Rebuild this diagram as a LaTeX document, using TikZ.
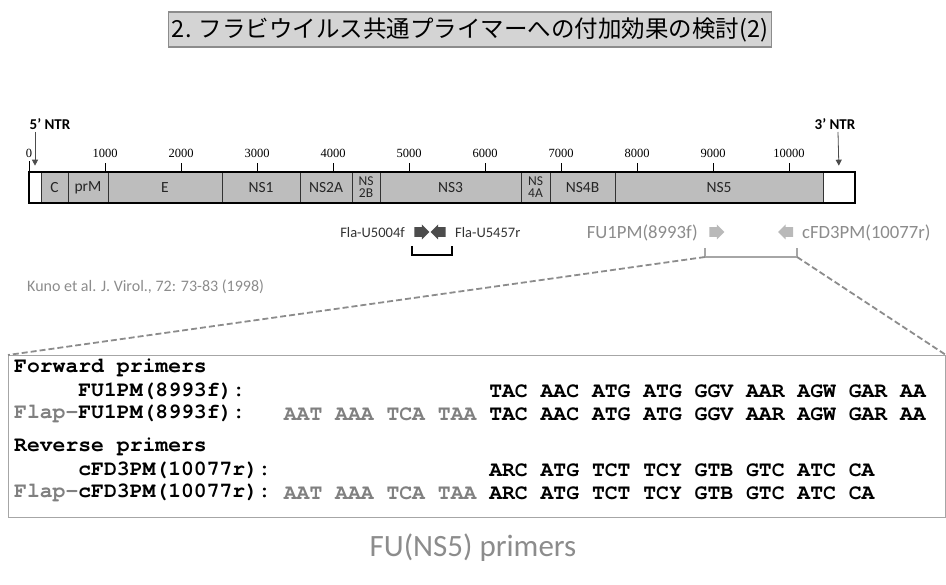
\documentclass[tikz,border=0pt]{standalone}
\usepackage{fontspec}
\setmainfont{Carlito}
\setmonofont{TeX Gyre Cursor}
\newfontfamily\jpfont{Noto Sans CJK JP}
\newfontfamily\serffont{Liberation Serif}
\usetikzlibrary{shapes.arrows,arrows.meta}
\definecolor{barfill}{gray}{0.74}
\definecolor{txtgray}{gray}{0.55}
\definecolor{titlefill}{gray}{0.83}
\definecolor{titleedge}{gray}{0.55}
\begin{document}
\begin{tikzpicture}[x=1pt,y=-1pt,
  titlebox/.style={draw=titleedge, fill=titlefill, line width=1.2pt, minimum width=603pt, minimum height=35pt, inner sep=0pt, font=\jpfont\fontsize{23.5}{24}\selectfont},
  seg/.style={draw=gray!40!black, line width=0.6pt, fill=barfill, minimum height=31pt, inner sep=0pt, align=center, font=\fontsize{15.5}{15.5}\selectfont, text=black!85},
  seg2/.style={seg, font=\fontsize{13.5}{12}\selectfont},
  ntrseg/.style={seg, fill=white},
  ticklab/.style={font=\serffont\fontsize{12.5}{13}\selectfont, inner sep=0pt},
  tickmark/.style={line width=1pt},
  ntrlab/.style={font=\bfseries\fontsize{15}{15}\selectfont, inner sep=0pt},
  ntrarrow/.style={gray!60!black, line width=0.8pt, shorten >=6pt, -{Triangle[length=6pt,width=6pt]}},
  smallprim/.style={font=\fontsize{14.5}{15}\selectfont, text=black!80, inner sep=0pt},
  bigprim/.style={font=\fontsize{18.7}{19}\selectfont, text=txtgray, inner sep=0pt},
  parrow/.style={single arrow, minimum height=15pt, minimum width=15pt, single arrow head extend=2pt, inner sep=3.5pt},
  bracketline/.style={line width=1.1pt},
  zoomline/.style={txtgray, line width=1.8pt, dash pattern=on 6pt off 3pt},
  seqbox/.style={draw=gray!70, line width=0.9pt},
  mono/.style={font=\ttfamily\bfseries\fontsize{21.4}{22}\selectfont, inner sep=0pt, anchor=west},
]
\useasboundingbox (0,0) rectangle (946,585);

% title
\node[titlebox] (title) at (470,29.5) {2. フラビウイルス共通プライマーへの付加効果の検討(2)};

% genome bar
\node[ntrseg, minimum width=12pt] (ntrfive) at (35,187.5) {};
\node[ntrseg, minimum width=32pt] (ntrthree) at (839,187.5) {};
\foreach \a/\b/\nm/\lab in {41/68/C/C, 68/108/prM/prM, 108/222/E/E, 222/300/NSone/NS1, 300/352/NStwoA/NS2A, 380/521/NSthree/NS3, 550/615/NSfourB/NS4B, 615/823/NSfive/NS5}
  \node[seg, minimum width={\b-\a}] (\nm) at ({(\a+\b)/2},187.5) {\lab};
\node[seg2, minimum width=28pt] (NStwoB) at (366,187.5) {NS\\2B};
\node[seg2, minimum width=29pt] (NSfourA) at (535.5,187.5) {NS\\4A};
\draw[line width=2pt] (ntrfive.north west) rectangle (ntrthree.south east);

% ticks
\coordinate (tk0) at (29,172);
\draw[tickmark] (tk0) -- ++(0,-11);
\node[ticklab] (tl0) at (29,153) {0};
\foreach \k in {1,...,10} {
  \coordinate (tk\k) at ({29+76*\k},172);
  \draw[tickmark] (tk\k) -- ++(0,-9);
  \node[ticklab] (tl\k) at ({29+76*\k},153) {\k000};
}

% NTR labels
\node[ntrlab] (fiveNTR) at (50,124) {5' NTR};
\coordinate (a5) at (35,132);
\draw[ntrarrow] (a5) -- (ntrfive.north);
\node[ntrlab] (threeNTR) at (835,124) {3' NTR};
\coordinate (a3) at (838,132);
\draw[ntrarrow] (a3) -- (ntrthree.north);

% Fla primers
\node[smallprim, anchor=east] (U5004) at (405,233) {Fla-U5004f};
\node[parrow, fill=black!70] (U5004a) at (419.5,232) {};
\node[parrow, fill=black!70, shape border rotate=180] (U5457a) at (440.5,232) {};
\node[smallprim, anchor=west] (U5457) at (455,233) {Fla-U5457r};
\coordinate (ub1) at (412,246);
\coordinate (ub2) at (452,246);
\draw[bracketline] (ub1) -- ++(0,9) -| (ub2);

% FU primers
\node[bigprim, anchor=east] (FU1PM) at (698,233) {FU1PM(8993f)};
\node[parrow, fill=gray!55] (FUa) at (714.5,232) {};
\node[parrow, fill=gray!55, shape border rotate=180] (cFDa) at (788,232) {};
\node[bigprim, anchor=west] (cFD) at (802,233) {cFD3PM(10077r)};
\coordinate (fb1) at (705,248);
\coordinate (fb2) at (797,248);
\coordinate (fbl) at (705,257);
\coordinate (fbr) at (797,257);
\draw[bracketline, gray!70] (fb1) -- (fbl) -- (fbr) -- (fb2);

% reference
\node[bigprim, anchor=west, font=\fontsize{16}{16}\selectfont] (kuno) at (27,287) {Kuno et al. J. Virol., 72: 73-83 (1998)};

% sequence box
\coordinate (boxnw) at (8,355);
\coordinate (boxne) at (946,355);
\coordinate (boxse) at (945,517);
\draw[seqbox] (boxnw) rectangle (boxse);
\draw[zoomline] (fbl) -- (boxnw);
\draw[zoomline] (fbr) -- (boxne);

\node[mono] (fwd) at (14,368) {Forward primers};
\node[mono] (fu) at ({14+5*12.84},391) {FU1PM(8993f):};
\node[mono] (fuseq) at ({14+37*12.84},391) {TAC AAC ATG ATG GGV AAR AGW GAR AA};
\node[mono] (flfu) at (14,414) {\textcolor{gray}{Flap-}FU1PM(8993f):};
\node[mono] (flfuseq) at ({14+21*12.84},414) {\textcolor{gray}{AAT AAA TCA TAA} TAC AAC ATG ATG GGV AAR AGW GAR AA};
\node[mono] (rev) at (14,447) {Reverse primers};
\node[mono] (cfd) at ({14+5*12.84},470) {cFD3PM(10077r):};
\node[mono] (cfdseq) at ({14+37*12.84},470) {ARC ATG TCT TCY GTB GTC ATC CA};
\node[mono] (flcfd) at (14,493) {\textcolor{gray}{Flap-}cFD3PM(10077r):};
\node[mono] (flcfdseq) at ({14+21*12.84},493) {\textcolor{gray}{AAT AAA TCA TAA} ARC ATG TCT TCY GTB GTC ATC CA};

\node[font=\fontsize{31}{31}\selectfont, text=txtgray] (caption) at (473,548) {FU(NS5) primers};
\end{tikzpicture}
\end{document}
